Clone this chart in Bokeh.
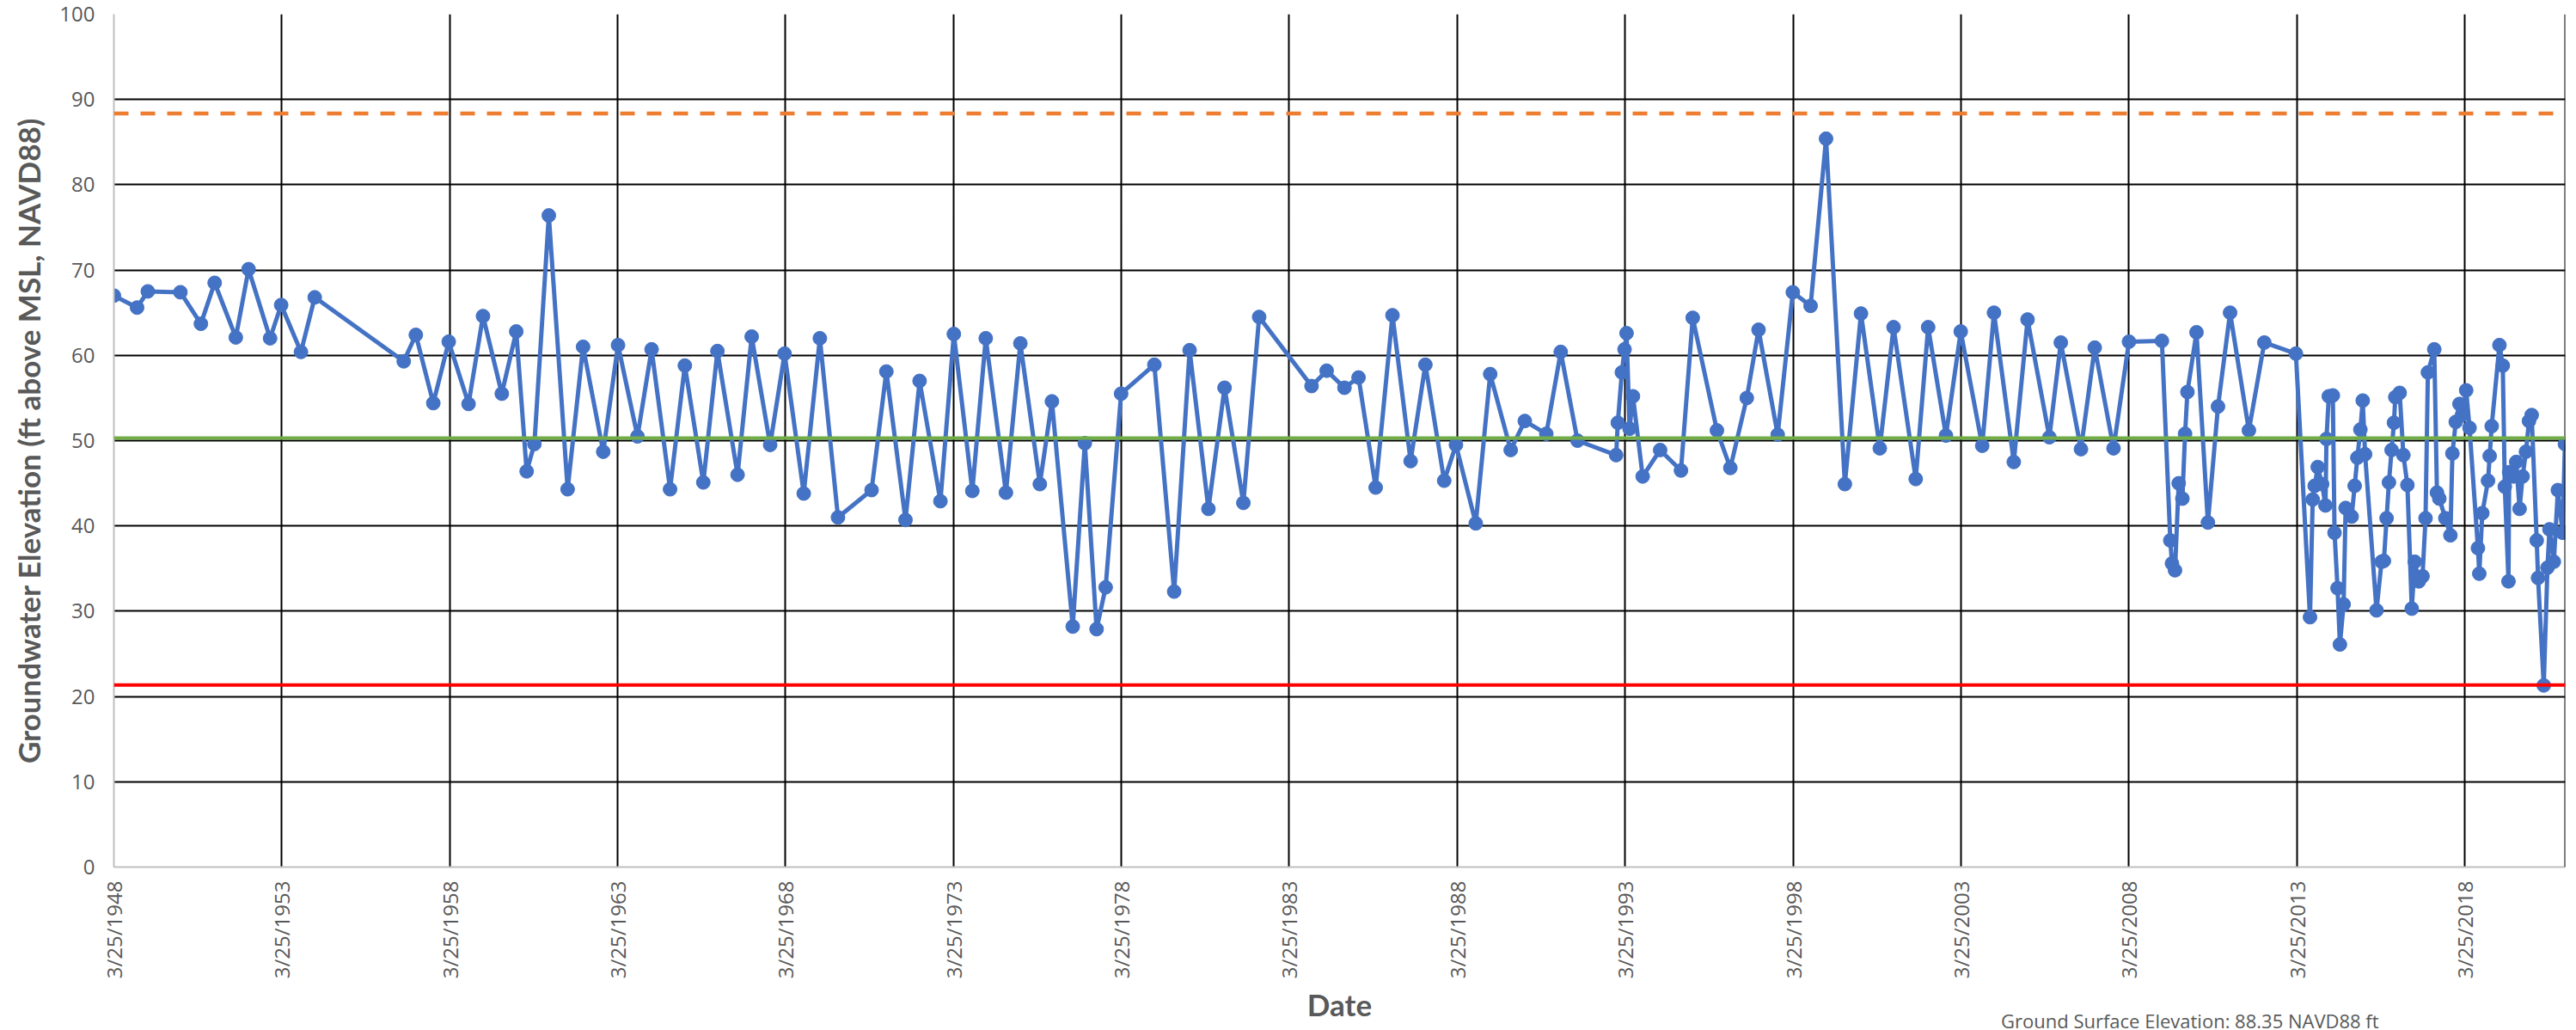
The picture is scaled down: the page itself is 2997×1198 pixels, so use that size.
import math
import datetime
from bokeh.plotting import figure
from bokeh.models import Span, FixedTicker, Range1d, Div
from bokeh.layouts import column
from bokeh.embed import file_html
from bokeh.resources import INLINE

# ---- data (decimal year of measurement, groundwater elevation ft) ----
years = [
    1948.23, 1948.92, 1949.24, 1950.21, 1950.82, 1951.23, 1951.86, 1952.24, 1952.88, 1953.21,
    1953.80, 1954.21, 1956.86, 1957.22, 1957.74, 1958.20, 1958.79, 1959.22, 1959.78, 1960.21,
    1960.52, 1960.75, 1961.18, 1961.74, 1962.20, 1962.80, 1963.24, 1963.82, 1964.24, 1964.79,
    1965.23, 1965.78, 1966.20, 1966.80, 1967.22, 1967.77, 1968.20, 1968.77, 1969.25, 1969.79,
    1970.79, 1971.23, 1971.80, 1972.22, 1972.84, 1973.24, 1973.79, 1974.19, 1974.79, 1975.22,
    1975.80, 1976.16, 1976.78, 1977.14, 1977.49, 1977.76, 1978.22, 1979.21, 1979.80, 1980.26,
    1980.82, 1981.30, 1981.86, 1982.33, 1983.89, 1984.34, 1984.87, 1985.29, 1985.80, 1986.30,
    1986.84, 1987.28, 1987.84, 1988.19, 1988.78, 1989.21, 1989.82, 1990.24, 1990.88, 1991.31,
    1991.81, 1992.96, 1993.01, 1993.13, 1993.21, 1993.27, 1993.36, 1993.46, 1993.75, 1994.27,
    1994.89, 1995.24, 1995.96, 1996.36, 1996.85, 1997.20, 1997.77, 1998.22, 1998.75, 1999.21,
    1999.77, 2000.25, 2000.81, 2001.22, 2001.88, 2002.25, 2002.78, 2003.22, 2003.86, 2004.21,
    2004.80, 2005.21, 2005.86, 2006.20, 2006.80, 2007.21, 2007.77, 2008.23, 2009.21, 2009.46,
    2009.51, 2009.60, 2009.71, 2009.82, 2009.90, 2009.97, 2010.24, 2010.58, 2010.88, 2011.24,
    2011.80, 2012.26, 2013.20, 2013.62, 2013.70, 2013.76, 2013.85, 2013.98, 2014.08, 2014.11,
    2014.18, 2014.30, 2014.35, 2014.44, 2014.51, 2014.62, 2014.68, 2014.86, 2014.95, 2015.03,
    2015.12, 2015.19, 2015.26, 2015.60, 2015.75, 2015.82, 2015.90, 2015.97, 2016.05, 2016.12,
    2016.16, 2016.29, 2016.40, 2016.52, 2016.65, 2016.74, 2016.86, 2016.97, 2017.06, 2017.13,
    2017.32, 2017.40, 2017.47, 2017.65, 2017.80, 2017.86, 2017.96, 2018.07, 2018.15, 2018.27,
    2018.37, 2018.62, 2018.66, 2018.75, 2018.92, 2018.97, 2019.03, 2019.26, 2019.36, 2019.42,
    2019.53, 2019.55, 2019.68, 2019.76, 2019.86, 2019.95, 2020.05, 2020.14, 2020.22, 2020.37,
    2020.41, 2020.58, 2020.69, 2020.75, 2020.88, 2021.00, 2021.14, 2021.21,
]
levels = [
    67.0, 65.6, 67.5, 67.4, 63.7, 68.5, 62.1, 70.1, 62.0, 65.9,
    60.4, 66.8, 59.3, 62.4, 54.4, 61.6, 54.3, 64.6, 55.5, 62.8,
    46.4, 49.6, 76.4, 44.3, 61.0, 48.7, 61.2, 50.5, 60.7, 44.3,
    58.8, 45.1, 60.5, 46.0, 62.2, 49.5, 60.2, 43.8, 62.0, 41.0,
    44.2, 58.1, 40.7, 57.0, 42.9, 62.5, 44.1, 62.0, 43.9, 61.4,
    44.9, 54.6, 28.2, 49.7, 27.9, 32.8, 55.5, 58.9, 32.3, 60.6,
    42.0, 56.2, 42.7, 64.5, 56.4, 58.2, 56.2, 57.4, 44.5, 64.7,
    47.6, 58.9, 45.3, 49.5, 40.3, 57.8, 48.9, 52.3, 50.8, 60.4,
    50.0, 48.3, 52.1, 58.0, 60.7, 62.6, 51.4, 55.2, 45.8, 48.9,
    46.5, 64.4, 51.2, 46.8, 55.0, 63.0, 50.7, 67.4, 65.8, 85.4,
    44.9, 64.9, 49.1, 63.3, 45.5, 63.3, 50.6, 62.8, 49.4, 65.0,
    47.5, 64.2, 50.4, 61.5, 49.0, 60.9, 49.1, 61.6, 61.7, 38.3,
    35.6, 34.8, 45.0, 43.2, 50.8, 55.7, 62.7, 40.4, 54.0, 65.0,
    51.2, 61.5, 60.2, 29.3, 43.1, 44.7, 46.9, 44.9, 42.4, 50.2,
    55.2, 55.3, 39.2, 32.7, 26.1, 30.8, 42.1, 41.1, 44.7, 48.0,
    51.3, 54.7, 48.4, 30.1, 35.8, 35.9, 40.9, 45.1, 48.9, 52.1,
    55.1, 55.6, 48.3, 44.8, 30.3, 35.8, 33.5, 34.1, 40.9, 58.0,
    60.7, 43.9, 43.2, 40.9, 38.9, 48.5, 52.2, 54.3, 53.0, 55.9,
    51.5, 37.4, 34.4, 41.5, 45.3, 48.2, 51.7, 61.2, 58.8, 44.6,
    33.5, 46.3, 45.8, 47.5, 42.0, 45.8, 48.7, 52.3, 53.0, 38.3,
    33.9, 21.3, 35.1, 39.6, 35.8, 44.2, 39.2, 49.6,
]

ground_surface = 88.35     # orange dashed
green_level = 50.3         # green reference line
red_level = 21.35          # red reference line
x_end_year = 2021.22

tick_labels = ["3/25/1948", "3/25/1953", "3/25/1958", "3/25/1963", "3/25/1968",
               "3/25/1973", "3/25/1978", "3/25/1983", "3/25/1988", "3/25/1993",
               "3/25/1998", "3/25/2003", "3/25/2008", "3/25/2013", "3/25/2018"]
y_ticks = [0, 10, 20, 30, 40, 50, 60, 70, 80, 90, 100]

note_text = "Ground Surface Elevation: 88.35 NAVD88 ft"


def label_to_year(s):
    m, d, y = (int(v) for v in s.split("/"))
    dt = datetime.date(y, m, d)
    ndays = 366 if (y % 4 == 0 and (y % 100 != 0 or y % 400 == 0)) else 365
    return y + (dt.timetuple().tm_yday - 1) / ndays


tick_pos = [label_to_year(s) for s in tick_labels]

GRAY = "#595959"

p = figure(width=2997, height=1198, output_backend="svg", toolbar_location=None,
           x_range=Range1d(tick_pos[0], x_end_year), y_range=Range1d(0, 100),
           min_border_left=132, min_border_right=13, min_border_top=16, min_border_bottom=190)
p.outline_line_color = None
p.background_fill_color = "white"
p.border_fill_color = None

# axes
p.xaxis.ticker = FixedTicker(ticks=tick_pos)
p.xaxis.major_label_overrides = {t: s for t, s in zip(tick_pos, tick_labels)}
p.xaxis.major_label_orientation = math.pi / 2
p.yaxis.ticker = FixedTicker(ticks=y_ticks)
for ax in (p.xaxis, p.yaxis):
    ax.major_tick_out = 0
    ax.major_tick_in = 0
    ax.minor_tick_out = 0
    ax.minor_tick_in = 0
    ax.axis_line_color = "#BFBFBF"
    ax.axis_line_width = 2
    ax.major_label_text_font = "Open Sans"
    ax.major_label_text_font_size = "24px"
    ax.major_label_text_color = GRAY
    ax.axis_label_text_font = "Lato"
    ax.axis_label_text_font_style = "bold"
    ax.axis_label_text_font_size = "35px"
    ax.axis_label_text_color = GRAY
p.xaxis.major_label_standoff = 16
p.yaxis.major_label_standoff = 22
p.xaxis.axis_label = "Date"
p.yaxis.axis_label = "Groundwater Elevation (ft above MSL, NAVD88)"
p.xaxis.axis_label_standoff = 6
p.yaxis.axis_label_standoff = 12

# grid
for g in (p.xgrid, p.ygrid):
    g.grid_line_color = "#000000"
    g.grid_line_width = 2
    g.grid_line_alpha = 1.0

# right border line
p.add_layout(Span(location=x_end_year, dimension="height", line_color="#000000", line_width=2))

# series
p.line(years, levels, line_color="#4472C4", line_width=5)
p.scatter(years, levels, size=16, fill_color="#4472C4", line_color="#4472C4")

# reference lines
p.add_layout(Span(location=ground_surface, dimension="width", line_color="#ED7D31",
                  line_width=4.5, line_dash="17 14"))
p.add_layout(Span(location=green_level, dimension="width", line_color="#70AD47", line_width=4))
p.add_layout(Span(location=red_level, dimension="width", line_color="#FF0000", line_width=4))

# note under the chart, bottom right
note = Div(text=note_text, width=560, height=20, margin=(-22, 0, 0, 2328),
           styles={"font-family": "Open Sans", "font-size": "22px", "color": GRAY,
                   "line-height": "22px", "white-space": "nowrap",
                   "position": "relative", "z-index": "10"})

layout = column(p, note, spacing=0)

open("out.html", "w").write(file_html(layout, INLINE))
